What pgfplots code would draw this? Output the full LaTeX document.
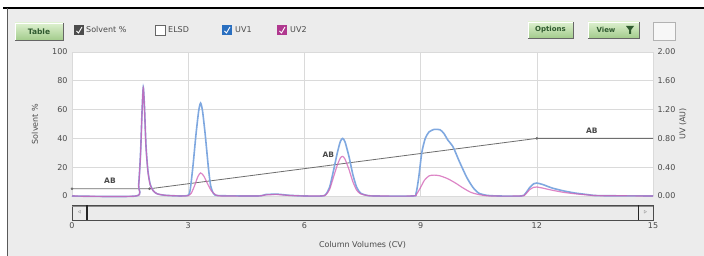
\documentclass[border=0pt]{standalone}
\usepackage{fontspec}
\setmainfont{DejaVu Sans}
\usepackage{pgfplots}
\pgfplotsset{compat=1.18}
\definecolor{bg}{HTML}{ECECEC}
\definecolor{labgray}{HTML}{4A4A4A}
\definecolor{gridc}{HTML}{DADADA}
\definecolor{uvone}{HTML}{7FA8E0}
\definecolor{uvtwo}{HTML}{D25DB4}
\definecolor{solv}{HTML}{6E6E6E}
\definecolor{btntop}{HTML}{DDF0CF}
\definecolor{btnbot}{HTML}{A3CC8C}
\definecolor{btntext}{HTML}{2F5A2F}
\definecolor{cbblue}{HTML}{2A6FC0}
\definecolor{cbpink}{HTML}{B0388F}
\begin{document}
\begin{tikzpicture}[x=1pt,y=1pt]
\useasboundingbox (0,0) rectangle (704,256);
\fill[white] (0,0) rectangle (704,256);
\fill[bg] (7,0) rectangle (704,248);
\draw[black, line width=1.2pt] (3,248) -- (704,248);
\draw[black!65, line width=0.9pt] (7,0) -- (7,248);
% toolbar
\shade[top color=btntop, bottom color=btnbot] (15,216) rectangle (63,233);
\draw[black!60, line width=0.8pt] (15,216) -- (63,216) -- (63,233);
\draw[white, line width=0.6pt] (15,216) -- (15,233) -- (63,233);
\node[font=\fontsize{7.5}{8}\selectfont\bfseries, text=btntext] at (39,224.5) {Table};
\fill[black!70] (74,221) rectangle (84,231);
\draw[white, line width=0.9pt] (76.5,225) -- (78.5,223) -- (82,229);
\node[anchor=west, font=\fontsize{8}{9}\selectfont, text=labgray, inner sep=1pt] at (85,226) {Solvent \%};
\fill[white] (155,221) rectangle (165,231);
\draw[black!60, line width=0.6pt] (155,221) rectangle (165,231);
\node[anchor=west, font=\fontsize{8}{9}\selectfont, text=labgray, inner sep=1pt] at (167,226) {ELSD};
\fill[cbblue] (222,221) rectangle (232,231);
\draw[white, line width=0.9pt] (224.5,225) -- (226.5,223) -- (230,229);
\node[anchor=west, font=\fontsize{8}{9}\selectfont, text=labgray, inner sep=1pt] at (234,226) {UV1};
\fill[cbpink] (277,221) rectangle (287,231);
\draw[white, line width=0.9pt] (279.5,225) -- (281.5,223) -- (285,229);
\node[anchor=west, font=\fontsize{8}{9}\selectfont, text=labgray, inner sep=1pt] at (289,226) {UV2};
\shade[top color=btntop, bottom color=btnbot] (528,218) rectangle (573,234);
\draw[black!60, line width=0.8pt] (528,218) -- (573,218) -- (573,234);
\draw[white, line width=0.6pt] (528,218) -- (528,234) -- (573,234);
\node[font=\fontsize{7}{8}\selectfont\bfseries, text=btntext] at (550.5,226) {Options};
\shade[top color=btntop, bottom color=btnbot] (588,218) rectangle (639,234);
\draw[black!60, line width=0.8pt] (588,218) -- (639,218) -- (639,234);
\draw[white, line width=0.6pt] (588,218) -- (588,234) -- (639,234);
\node[font=\fontsize{7}{8}\selectfont\bfseries, text=btntext] at (606,226) {View};
\fill[btntext] (626,230) -- (634,230) -- (631,226) -- (631,222) -- (629,222) -- (629,226) -- cycle;
\fill[black!3] (653,216) rectangle (675,234);
\draw[black!30, line width=0.6pt] (653,216) rectangle (675,234);
% scrollbar
\fill[black!8] (72,36) rectangle (653,51);
\draw[black!70, line width=0.9pt] (72,36) rectangle (653,51);
\draw[black!45, line width=0.6pt] (72,49.5) -- (653,49.5);
\draw[black!85, line width=1.3pt] (87,36) -- (87,51);
\draw[black!85, line width=1.0pt] (638,36) -- (638,51);
\node[font=\fontsize{4}{4}\selectfont, text=black!60] at (79.5,43.5) {$\triangleleft$};
\node[font=\fontsize{4}{4}\selectfont, text=black!60] at (645.5,43.5) {$\triangleright$};
\begin{axis}[
  at={(72pt,60pt)}, anchor=south west,
  scale only axis, width=581pt, height=144pt,
  xmin=0, xmax=15, ymin=0, ymax=100,
  xtick={0,3,6,9,12,15}, ytick={0,20,40,60,80,100},
  grid=major, grid style={gridc, line width=0.6pt},
  axis line style={draw=none}, tick style={draw=none},
  axis background/.style={fill=white},
  /pgf/number format/assume math mode=true,
  tick label style={font=\fontsize{8}{9}\selectfont, text=labgray},
  xticklabel style={yshift=-23pt},
  yticklabel style={xshift=-1pt},
  xlabel={Column Volumes (CV)},
  ylabel={Solvent \%},
  label style={font=\fontsize{8}{9}\selectfont, text=labgray},
  xlabel style={at={(axis description cs:0.5,-0.29)}, anchor=north},
  ylabel style={at={(axis description cs:-0.064,0.5)}, anchor=center},
  clip=false,
]
\addplot[solv, line width=0.8pt] coordinates {(0,5) (2,5) (12,40) (15,40)};
\addplot[only marks, mark=*, mark size=1.1pt, solv] coordinates {(0,5) (2,5) (12,40)};
\node[font=\fontsize{7.5}{8}\selectfont\bfseries, text=labgray] at (axis cs:0.98,10.4) {AB};
\node[font=\fontsize{7.5}{8}\selectfont\bfseries, text=labgray] at (axis cs:6.62,28.5) {AB};
\node[font=\fontsize{7.5}{8}\selectfont\bfseries, text=labgray] at (axis cs:13.42,45.3) {AB};
\end{axis}
\begin{axis}[
  at={(72pt,60pt)}, anchor=south west,
  scale only axis, width=581pt, height=144pt,
  xmin=0, xmax=15, ymin=0, ymax=2,
  axis y line*=right, axis x line=none,
  ytick={0,0.4,0.8,1.2,1.6,2},
  axis line style={draw=none}, tick style={draw=none},
  /pgf/number format/assume math mode=true,
  /pgf/number format/.cd, fixed, fixed zerofill, precision=2, /pgfplots/.cd,
  tick label style={font=\fontsize{8}{9}\selectfont, text=labgray},
  yticklabel style={xshift=1pt},
  ylabel={UV (AU)},
  label style={font=\fontsize{8}{9}\selectfont, text=labgray},
  ylabel style={at={(axis description cs:1.0516,0.5)}, anchor=center, rotate=0},
  clip=false,
]
\addplot[uvone, line width=1.6pt, smooth, tension=0.4] coordinates {
(0,0) (1.65,0) (1.72,0.15) (1.77,0.6) (1.81,1.2) (1.84,1.51) (1.87,1.25) (1.91,0.7) (1.96,0.35) (2.02,0.16) (2.1,0.07) (2.2,0.03) (2.4,0.01) (2.8,0) (3.0,0.01) (3.05,0.08) (3.12,0.4) (3.2,0.85) (3.27,1.18) (3.32,1.29) (3.37,1.18) (3.44,0.85) (3.52,0.4) (3.58,0.14) (3.66,0.03) (3.8,0.005) (4.8,0) (5.0,0.02) (5.3,0.025) (5.6,0.01) (6.0,0) (6.45,0) (6.55,0.02) (6.65,0.12) (6.75,0.35) (6.85,0.6) (6.93,0.76) (6.99,0.80) (7.05,0.75) (7.15,0.55) (7.25,0.3) (7.35,0.12) (7.45,0.04) (7.6,0.01) (7.8,0) (8.8,0) (8.88,0.03) (8.95,0.25) (9.03,0.6) (9.12,0.8) (9.22,0.89) (9.35,0.925) (9.5,0.92) (9.6,0.87) (9.7,0.78) (9.84,0.68) (10.0,0.48) (10.19,0.26) (10.35,0.12) (10.5,0.04) (10.7,0.01) (11.0,0) (11.6,0) (11.7,0.03) (11.82,0.12) (11.92,0.17) (12.0,0.18) (12.15,0.16) (12.4,0.11) (12.7,0.07) (13.0,0.04) (13.3,0.02) (13.6,0.005) (15,0)};
\addplot[uvtwo, line width=1.2pt, opacity=0.75, smooth, tension=0.4] coordinates {
(0,0) (1.65,0) (1.72,0.14) (1.77,0.58) (1.81,1.18) (1.84,1.50) (1.87,1.24) (1.91,0.69) (1.96,0.34) (2.02,0.15) (2.1,0.07) (2.2,0.03) (2.4,0.01) (2.8,0) (3.0,0.005) (3.08,0.04) (3.17,0.15) (3.25,0.27) (3.32,0.32) (3.4,0.28) (3.5,0.17) (3.6,0.07) (3.7,0.02) (3.85,0) (4.8,0) (5.0,0.015) (5.3,0.02) (5.6,0.008) (6.0,0) (6.45,0) (6.55,0.015) (6.65,0.09) (6.75,0.26) (6.85,0.43) (6.93,0.53) (6.99,0.55) (7.05,0.51) (7.15,0.37) (7.25,0.2) (7.35,0.08) (7.45,0.03) (7.6,0.01) (7.8,0) (8.8,0) (8.9,0.03) (9.0,0.12) (9.1,0.22) (9.22,0.28) (9.35,0.29) (9.5,0.28) (9.7,0.24) (9.9,0.18) (10.1,0.11) (10.3,0.05) (10.5,0.02) (10.8,0) (11.6,0) (11.7,0.02) (11.82,0.09) (11.92,0.12) (12.0,0.125) (12.15,0.11) (12.4,0.08) (12.7,0.05) (13.0,0.03) (13.3,0.015) (13.6,0.005) (15,0)};
\end{axis}
\end{tikzpicture}
\end{document}
